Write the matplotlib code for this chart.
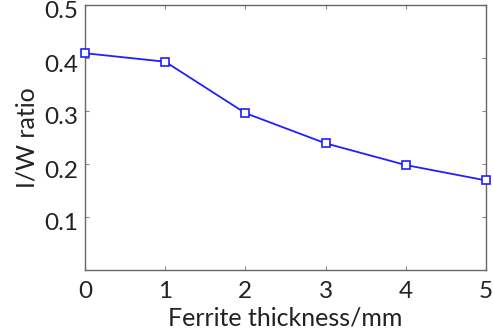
import matplotlib
matplotlib.use("Agg")
import matplotlib.pyplot as plt
import matplotlib.transforms as mtransforms

thickness = [0, 1, 2, 3, 4, 5]
iw_ratio = [0.409, 0.393, 0.296, 0.239, 0.198, 0.169]
xticks = [0, 1, 2, 3, 4, 5]
yticks = [0.1, 0.2, 0.3, 0.4, 0.5]
ytick_labels = ["0.1", "0.2", "0.3", "0.4", "0.5"]

plt.rcParams['font.family'] = ['Lato', 'DejaVu Sans']

fig = plt.figure(figsize=(4.93, 3.35), dpi=100)
ax = fig.add_axes([85/493, 1-270/335, (486-85)/493, (270-5)/335])

ax.plot(thickness, iw_ratio, color='#1f1fff', lw=1.3, marker='s', ms=6,
        mfc='white', mec='#1f1fff', mew=1.2, clip_on=False, zorder=3)

ax.set_xlim(0, 5)
ax.set_ylim(0, 0.5)
ax.set_xticks(xticks)
ax.set_yticks(yticks)
ax.set_yticklabels(ytick_labels)
ax.tick_params(direction='in', length=3, width=0.8, color='#888888',
               labelsize=17.5, top=True, right=True, pad=8, labelcolor='#222222')
ax.tick_params(axis='y', pad=5)
for s in ax.spines.values():
    s.set_color('#666666')
    s.set_linewidth(1.0)

off = mtransforms.ScaledTranslation(0, -5/100, fig.dpi_scale_trans)
for lab in ax.get_yticklabels():
    lab.set_transform(lab.get_transform() + off)

ax.set_xlabel("Ferrite thickness/mm", fontsize=18, color='#222222', labelpad=3)
ax.set_ylabel("I/W ratio", fontsize=18, color='#222222', labelpad=4)

fig.savefig("out.png", dpi=100)
